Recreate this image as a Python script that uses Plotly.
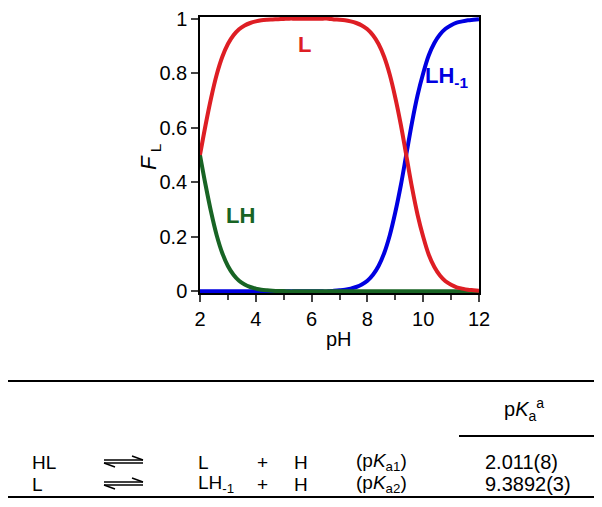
import plotly.graph_objects as go

# ---- data ----
ph = [2.0, 2.2, 2.4, 2.6, 2.8, 3.0, 3.2, 3.4, 3.6, 3.8, 4.0, 4.2, 4.4, 4.6, 4.8, 5.0,
      5.2, 5.4, 5.6, 5.8, 6.0, 6.2, 6.4, 6.6, 6.8, 7.0, 7.2, 7.4, 7.6, 7.8, 8.0, 8.2,
      8.4, 8.6, 8.8, 9.0, 9.2, 9.4, 9.6, 9.8, 10.0, 10.2, 10.4, 10.6, 10.8, 11.0, 11.2,
      11.4, 11.6, 11.8, 12.0]
frac_LH = [0.50, 0.39, 0.29, 0.205, 0.14, 0.093, 0.061, 0.039, 0.025, 0.016, 0.010, 0.006,
           0.004, 0.0026, 0.0016, 0.001] + [0.0] * 35
frac_LHm1 = [0.0] * 24 + [0.0026, 0.004, 0.006, 0.010, 0.016, 0.025, 0.039, 0.061, 0.093,
                          0.14, 0.205, 0.29, 0.39, 0.505, 0.62, 0.72, 0.80, 0.866, 0.911,
                          0.942, 0.963, 0.976, 0.985, 0.990, 0.994, 0.996, 0.998]
frac_L = [0.50, 0.61, 0.71, 0.795, 0.86, 0.907, 0.939, 0.961, 0.975, 0.984, 0.990, 0.994,
          0.996, 0.997, 0.998, 0.999] + [1.0] * 8 + [0.997, 0.996, 0.994, 0.990, 0.984,
          0.975, 0.961, 0.939, 0.907, 0.86, 0.795, 0.71, 0.61, 0.495, 0.38, 0.28, 0.20,
          0.134, 0.089, 0.058, 0.037, 0.024, 0.015, 0.010, 0.006, 0.004, 0.002]

x_ticks = [2, 4, 6, 8, 10, 12]
y_ticks = [0, 0.2, 0.4, 0.6, 0.8, 1]
y_ticktext = ["0", "0.2", "0.4", "0.6", "0.8", "1"]

# table content
row_left = ["HL", "L"]
row_right = ["L", "LH<sub>-1</sub>"]
row_label = ["(p<i>K</i><sub>a1</sub>)", "(p<i>K</i><sub>a2</sub>)"]
row_value = ["2.011(8)", "9.3892(3)"]

RED = "rgb(222,30,36)"
BLUE = "rgb(0,0,225)"
GREEN = "rgb(24,100,36)"
FONT = "Liberation Sans, Arial, sans-serif"

W, H = 602, 507
OFF = 8  # page body margin
def px(x):
    return (x - OFF) / W
def py(y):
    return 1 - (y - OFF) / H

def note(x, y, text, xanchor="center", size=19, **kw):
    fig.add_annotation(x=px(x), y=py(y), xref="paper", yref="paper", showarrow=False,
                       xanchor=xanchor, yanchor="middle", text=text,
                       font=dict(size=size), **kw)

fig = go.Figure()
fig.add_trace(go.Scatter(x=ph, y=frac_LHm1, mode="lines", line=dict(color=BLUE, width=4, shape="spline")))
fig.add_trace(go.Scatter(x=ph, y=frac_LH, mode="lines", line=dict(color=GREEN, width=4, shape="spline")))
fig.add_trace(go.Scatter(x=ph, y=frac_L, mode="lines", line=dict(color=RED, width=4, shape="spline")))

fig.update_layout(
    width=W, height=H, margin=dict(l=0, r=0, t=0, b=0, autoexpand=False),
    paper_bgcolor="white", plot_bgcolor="white", showlegend=False,
    font=dict(family=FONT, size=20, color="black"),
    xaxis=dict(domain=[px(200), px(479)], range=[2, 12], tickvals=x_ticks, automargin=False,
               ticks="outside", ticklen=7, tickwidth=1.5, showline=True, linecolor="black",
               linewidth=1.5, mirror=True, showgrid=False, zeroline=False,
               ticklabeloverflow="allow",
               minor=dict(dtick=1, tick0=2, ticks="outside", ticklen=5, tickwidth=1.5, showgrid=False),
               tickfont=dict(size=20)),
    yaxis=dict(domain=[py(293), py(17)], range=[-0.006, 1.006], tickvals=y_ticks, automargin=False,
               ticktext=y_ticktext, ticks="outside", ticklen=7, tickwidth=1.5,
               showline=True, linecolor="black", linewidth=1.5, mirror=True,
               ticklabeloverflow="allow",
               showgrid=False, zeroline=False, tickfont=dict(size=20)),
)

# axis titles
note(339, 339, "pH", size=20)
note(150, 157, "<i>F</i><sub> L</sub>", size=22, textangle=-90)

# curve labels
fig.add_annotation(x=5.75, y=0.905, text="<b>L</b>", showarrow=False, font=dict(color=RED, size=22))
fig.add_annotation(x=3.45, y=0.28, text="<b>LH</b>", showarrow=False, font=dict(color=GREEN, size=22))
fig.add_annotation(x=10.85, y=0.785, text="<b>LH<sub>-1</sub></b>", showarrow=False, font=dict(color=BLUE, size=22))

# table lines
shapes = []
for y in (381, 497):
    shapes.append(dict(type="line", xref="paper", yref="paper", x0=px(8), x1=px(596),
                       y0=py(y), y1=py(y), line=dict(color="black", width=2)))
shapes.append(dict(type="line", xref="paper", yref="paper", x0=px(459), x1=px(596),
                   y0=py(436), y1=py(436), line=dict(color="black", width=2)))

note(524, 409, "p<i>K</i><sub>a</sub><sup>a</sup>", size=20)

row_y = [462, 484]
for i, yy in enumerate(row_y):
    note(30, yy, row_left[i], xanchor="left")
    note(196, yy, row_right[i], xanchor="left")
    note(262, yy, "+")
    note(301, yy, "H")
    note(354, yy, row_label[i], xanchor="left")
    note(483, yy, row_value[i], xanchor="left", size=20)
    # equilibrium harpoons
    ya, yb = yy - 2, yy + 1
    shapes.append(dict(type="line", xref="paper", yref="paper", x0=px(104), x1=px(143),
                       y0=py(ya), y1=py(ya), line=dict(color="black", width=1.5)))
    shapes.append(dict(type="line", xref="paper", yref="paper", x0=px(132), x1=px(143),
                       y0=py(ya - 4), y1=py(ya), line=dict(color="black", width=1.5)))
    shapes.append(dict(type="line", xref="paper", yref="paper", x0=px(104), x1=px(143),
                       y0=py(yb), y1=py(yb), line=dict(color="black", width=1.5)))
    shapes.append(dict(type="line", xref="paper", yref="paper", x0=px(104), x1=px(115),
                       y0=py(yb), y1=py(yb + 4), line=dict(color="black", width=1.5)))

fig.update_layout(shapes=shapes)
fig.write_html("out.html")
